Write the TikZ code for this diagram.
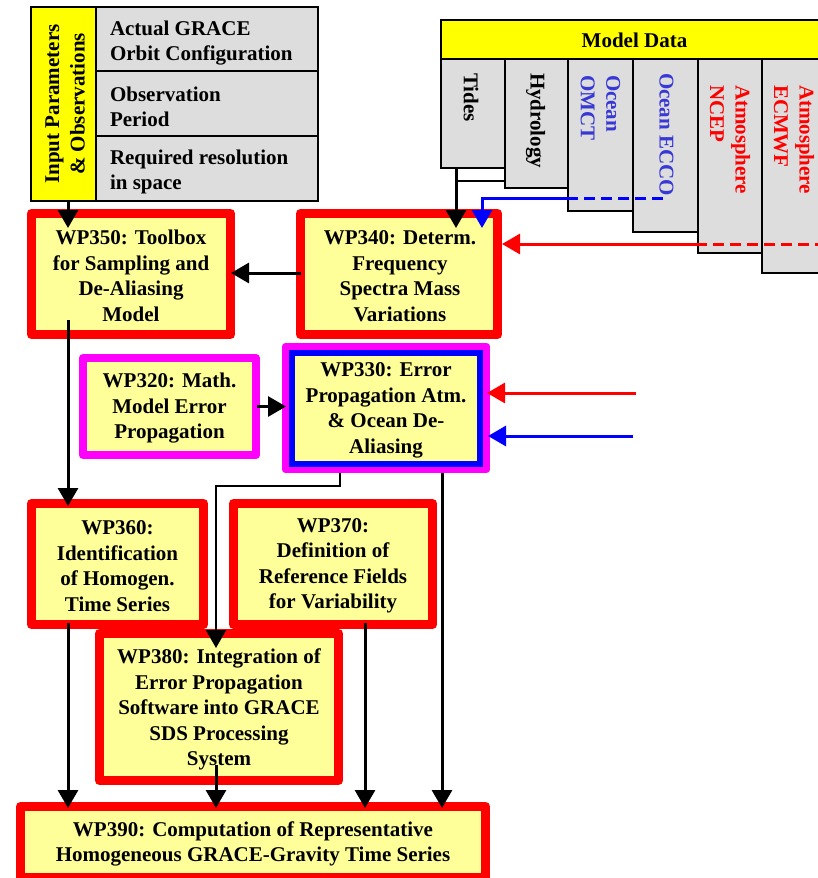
\documentclass[tikz,border=0pt]{standalone}
\usepackage{fontspec}
\setmainfont{Liberation Serif}
\usetikzlibrary{arrows.meta,calc}
\definecolor{boxyellow}{RGB}{255,255,153}
\definecolor{hdryellow}{RGB}{255,255,0}
\definecolor{colgray}{RGB}{221,221,221}
\definecolor{oceanblue}{RGB}{56,56,214}
\definecolor{mag}{RGB}{255,0,255}
\definecolor{pred}{RGB}{255,0,0}
\definecolor{pblue}{RGB}{0,0,255}
\newcommand{\dfont}{\bfseries\fontsize{21}{25.5}\selectfont}
\begin{document}
\begin{tikzpicture}[x=1pt,y=-1pt,
  every node/.style={inner sep=0pt, outer sep=0pt},
  wpbox/.style={draw=pred, line width=9pt, fill=boxyellow, line join=round},
  magbox/.style={draw=mag, line width=8pt, fill=boxyellow, line join=round},
  wptext/.style={font=\dfont, align=center},
  cell/.style={draw=black, line width=2pt, fill=colgray},
  rowcell/.style={cell, minimum width=222pt, minimum height=65pt},
  rowtext/.style={font=\dfont, align=left, anchor=west},
  coltext/.style={font=\dfont, rotate=-90, anchor=west, align=left},
  arr/.style={draw=black, line width=3pt, -{Triangle[length=18pt,width=20pt]}},
  rarr/.style={arr, draw=pred},
  barr/.style={arr, draw=pblue},
  dashln/.style={line width=3pt, dash pattern=on 11pt off 6pt}
]
\clip (0,0) rectangle (818,878);

% Input parameters block
\node[cell, fill=hdryellow, minimum width=65pt, minimum height=194pt] (inpY) at (63.5,104) {};
\node[font=\dfont, rotate=90, align=center] (inpT) at (65,104) {Input Parameters\\\& Observations};
\node[rowcell] (r1) at (207,39) {};
\node[rowcell] (r2) at (207,103.5) {};
\node[rowcell] (r3) at (207,168.5) {};
\node[rowtext] (r1t) at ($(r1.west)+(14,4)$) {Actual GRACE\\Orbit Configuration};
\node[rowtext] (r2t) at ($(r2.west)+(14,3.5)$) {Observation\\Period};
\node[rowtext] (r3t) at ($(r3.west)+(14,3.5)$) {Required resolution\\in space};

% Model data block
\node[cell, fill=hdryellow, minimum width=387pt, minimum height=39pt] (hdr) at (634.5,39.5) {};
\node[font=\dfont] (hdrT) at ($(hdr.center)+(0,1)$) {Model Data};
\node[cell, minimum width=64pt, minimum height=109pt] (tides) at (473,113.5) {};
\node[cell, minimum width=63pt, minimum height=129pt] (hydro) at (536.5,123.5) {};
\node[cell, minimum width=65pt, minimum height=152pt] (omct) at (600.5,135) {};
\node[cell, minimum width=65pt, minimum height=173pt] (ecco) at (665.5,145.5) {};
\node[cell, minimum width=64pt, minimum height=194pt] (ncep) at (730,156) {};
\node[cell, minimum width=64pt, minimum height=214pt] (ecmwf) at (794,166) {};
\node[coltext] (tidesT) at ($(tides.north)+(-2,14)$) {Tides};
\node[coltext] (hydroT) at ($(hydro.north)+(-1,14)$) {Hydrology};
\node[coltext, text=oceanblue] (omctT) at ($(omct.north)+(0,16)$) {Ocean\\OMCT};
\node[coltext, text=oceanblue] (eccoT) at ($(ecco.north)+(1,14)$) {Ocean ECCO};
\node[coltext, text=pred] (ncepT) at ($(ncep.north)+(0,26)$) {Atmosphere\\NCEP};
\node[coltext, text=pred] (ecmwfT) at ($(ecmwf.north)+(0,26)$) {Atmosphere\\ECMWF};

% Work packages
\node[wpbox, minimum width=199pt, minimum height=121pt] (wp350) at (131,274) {};
\node[wptext] (wp350t) at ($(wp350.center)+(0,2)$) {WP350: Toolbox\\for Sampling and\\De-Aliasing\\Model};
\node[wpbox, minimum width=197pt, minimum height=121pt] (wp340) at (399,274) {};
\node[wptext] (wp340t) at ($(wp340.center)+(1,2)$) {WP340: Determ.\\Frequency\\Spectra Mass\\Variations};
\node[magbox, minimum width=173pt, minimum height=97pt] (wp320) at (169.5,406.5) {};
\node[wptext] (wp320t) at ($(wp320.center)+(0,2)$) {WP320: Math.\\Model Error\\Propagation};
\node[magbox, line width=7pt, minimum width=201pt, minimum height=123pt] (wp330m) at (386,408) {};
\node[draw=pblue, line width=6pt, fill=boxyellow, minimum width=188pt, minimum height=111pt] (wp330) at (386,408.5) {};
\node[wptext] (wp330t) at ($(wp330.center)+(0,2)$) {WP330: Error\\Propagation Atm.\\\& Ocean De-\\Aliasing};
\node[wpbox, minimum width=172pt, minimum height=121pt] (wp360) at (117.5,564) {};
\node[wptext] (wp360t) at ($(wp360.center)+(0,2)$) {WP360:\\Identification\\of Homogen.\\Time Series};
\node[wpbox, minimum width=199pt, minimum height=121pt] (wp370) at (333,564) {};
\node[wptext] (wp370t) at ($(wp370.center)+(0,2)$) {WP370:\\Definition of\\Reference Fields\\for Variability};
\node[wpbox, minimum width=239pt, minimum height=147pt] (wp380) at (219,707) {};
\node[wptext] (wp380t) at ($(wp380.center)+(0,2.5)$) {WP380: Integration of\\Error Propagation\\Software into GRACE\\SDS Processing\\System};
\node[wpbox, minimum width=465pt, minimum height=71pt] (wp390) at (253,842) {};
\node[wptext] (wp390t) at ($(wp390.center)+(0,2)$) {WP390: Computation of Representative\\Homogeneous GRACE-Gravity Time Series};

% Connectors
\coordinate (s1) at ($(inpY.south)+(4.5,0)$);
\draw[arr] (s1) -- ($(wp350.north -| s1)+(0,14.5)$);
\draw[arr] ($(wp340.west)+(0,-1)$) -- ($(wp350.east)+(0.5,-1)$);

\coordinate (tj) at ($(tides.south)+(-17,0)$);
\coordinate (hj) at ($(hydro.south west)+(0,-7)$);
\draw[line width=2pt] (hj) -- (tj |- hj);
\draw[arr] (tj) -- ($(wp340.north -| tj)+(0,14.5)$);

\coordinate (eb) at ($(ecco.south)+(-2.5,-33.5)$);
\coordinate (ob) at (omct.south west |- eb);
\draw[dashln, draw=pblue] (eb) -- (ob);
\draw[barr] (ob) -| ($(wp340.north east)+(-15.5,14.5)$);

\coordinate (redin) at (826,244);
\coordinate (rn) at (ncep.west |- redin);
\draw[dashln, draw=pred] (redin) -- (rn);
\draw[rarr] (rn) -- ($(wp340.east |- redin)+(4.5,0)$);

\coordinate (m1) at ($(wp320.east)+(1,0)$);
\draw[arr] (m1) -- ($(wp330m.west |- m1)+(0.5,0)$);

\coordinate (rin2) at (636,393);
\draw[rarr] (rin2) -- ($(wp330m.east |- rin2)+(0.5,0)$);
\coordinate (bin2) at (633,436);
\draw[barr] (bin2) -- ($(wp330m.east |- bin2)+(1.5,0)$);

\draw[arr] ($(wp350.south -| s1)+(0,-14.5)$) -- ($(wp360.north -| s1)+(0,2.5)$);

\coordinate (c1) at ($(wp330m.south)+(-46,3.5)$);
\draw[arr, line width=2pt] (c1) -- ++(0,13) -| ($(wp380.north)+(-3,14.5)$);

\coordinate (c2) at ($(wp330m.south)+(56,3.5)$);
\draw[arr] (c2) -- ($(wp390.north -| c2)+(0,1.5)$);
\draw[arr] ($(wp360.south -| s1)+(0,-1.5)$) -- ($(wp390.north -| s1)+(0,1.5)$);
\coordinate (c3) at ($(wp380.south)+(-3,-15.5)$);
\draw[arr] (c3) -- ($(wp390.north -| c3)+(0,1.5)$);
\coordinate (c4) at ($(wp370.south)+(32,-1.5)$);
\draw[arr] (c4) -- ($(wp390.north -| c4)+(0,1.5)$);
\end{tikzpicture}
\end{document}
